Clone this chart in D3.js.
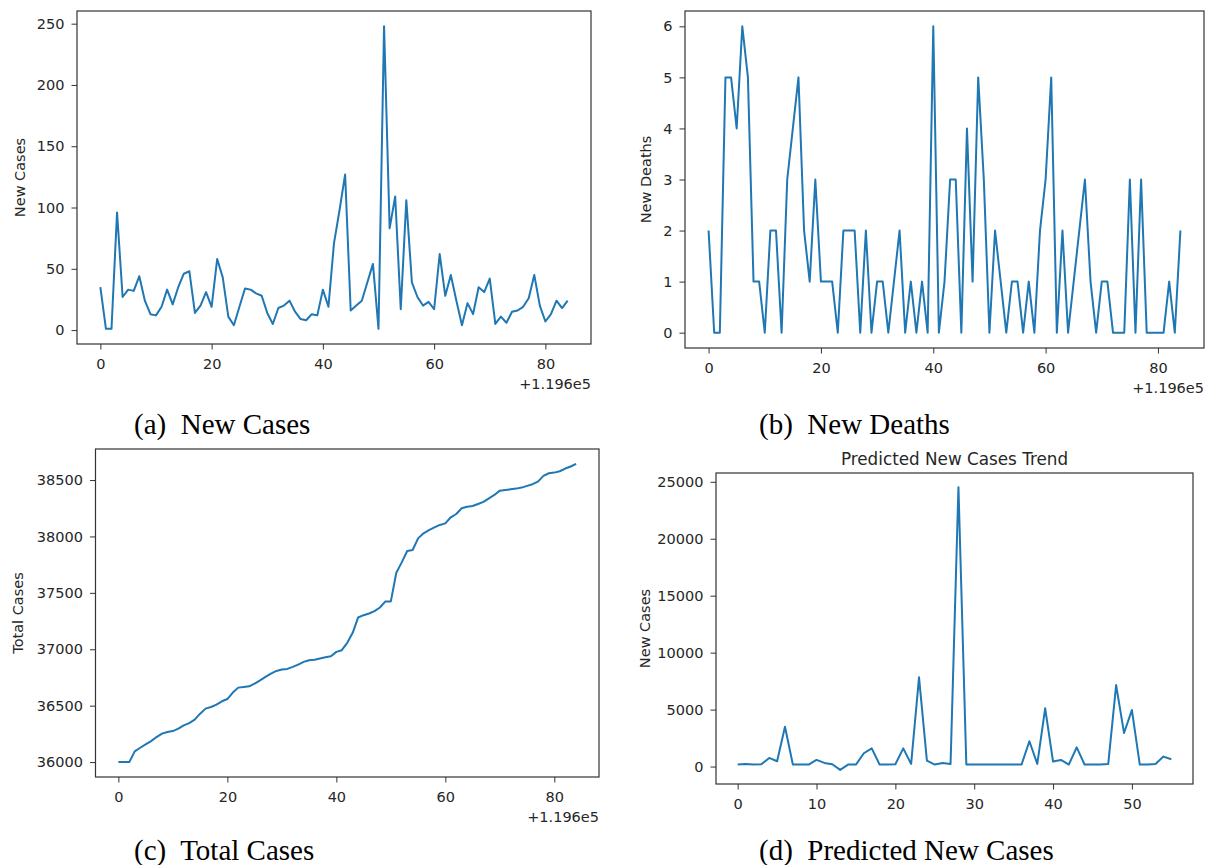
<!DOCTYPE html>
<html>
<head>
<meta charset="utf-8">
<script src="https://cdn.jsdelivr.net/npm/d3@7"></script>
<style>
  body { margin: 0; background: #fff; }
  svg text { font-family: "DejaVu Sans", sans-serif; fill: #262626; }
  .caption { font-family: "Liberation Serif", "Times New Roman", serif !important; white-space: pre; }
</style>
</head>
<body>
<div id="vis"></div>
<script>
// day index offsets (shown as +1.196e5 on the axis)
const newCases = [35, 1, 1, 96, 27, 33, 32, 44, 24, 13, 12, 19, 33, 21, 35, 46, 48, 14, 20, 31,
  19, 58, 43, 11, 4, 19, 34, 33, 30, 28, 14, 5, 18, 20, 24, 15, 9, 8, 13, 12,
  33, 19, 71, 98, 127, 16, 20, 24, 39, 54, 1, 248, 83, 109, 17, 106, 39, 27, 20, 23,
  17, 62, 28, 45, 24, 4, 22, 13, 35, 31, 42, 5, 11, 6, 15, 16, 19, 26, 45, 20,
  7, 13, 24, 18, 24];

const newDeaths = [2, 0, 0, 5, 5, 4, 6, 5, 1, 1, 0, 2, 2, 0, 3, 4, 5, 2, 1, 3,
  1, 1, 1, 0, 2, 2, 2, 0, 2, 0, 1, 1, 0, 1, 2, 0, 1, 0, 1, 0,
  6, 0, 1, 3, 3, 0, 4, 1, 5, 3, 0, 2, 1, 0, 1, 1, 0, 1, 0, 2,
  3, 5, 0, 2, 0, 1, 2, 3, 1, 0, 1, 1, 0, 0, 0, 3, 0, 3, 0, 0,
  0, 0, 1, 0, 2];

const totalCases = [36000, 36000, 36000, 36095, 36127, 36157, 36186, 36222, 36252, 36266,
  36275, 36296, 36326, 36346, 36376, 36429, 36474, 36488, 36509, 36539,
  36559, 36616, 36660, 36666, 36672, 36696, 36725, 36755, 36784, 36808,
  36820, 36826, 36844, 36864, 36888, 36903, 36908, 36918, 36929, 36938,
  36977, 36992, 37057, 37146, 37282, 37302, 37317, 37338, 37370, 37424,
  37424, 37678, 37770, 37871, 37880, 37983, 38028, 38057, 38081, 38102,
  38116, 38170, 38199, 38250, 38264, 38270, 38288, 38306, 38338, 38368,
  38406, 38412, 38418, 38424, 38433, 38448, 38463, 38486, 38537, 38560,
  38566, 38578, 38602, 38620, 38643];

const predictedCases = [175, 234, 175, 200, 760, 467, 3500, 175, 175, 175,
  584, 321, 204, -290, 175, 175, 1170, 1600, 175, 175,
  200, 1600, 234, 7830, 526, 175, 321, 234, 24530, 175,
  175, 175, 175, 175, 175, 175, 175, 2220, 234, 5110,
  438, 584, 175, 1690, 175, 175, 175, 234, 7150, 2950,
  4960, 175, 175, 234, 876, 642];

const dayTicks = [0, 20, 40, 60, 80];
const predTicks = [0, 10, 20, 30, 40, 50];
const casesTicks = [0, 50, 100, 150, 200, 250];
const deathTicks = [0, 1, 2, 3, 4, 5, 6];
const totalTicks = [36000, 36500, 37000, 37500, 38000, 38500];
const predYTicks = [0, 5000, 10000, 15000, 20000, 25000];

const panels = [
  {values: newCases, xTicks: dayTicks, yTicks: casesTicks, ylabel: "New Cases", offset: "+1.196e5",
   box: [77, 591, 11, 344], ylabelX: 20, caption: "(a)  New Cases", capX: 134, capY: 434},
  {values: newDeaths, xTicks: dayTicks, yTicks: deathTicks, ylabel: "New Deaths", offset: "+1.196e5",
   box: [685, 1204, 11, 348], ylabelX: 646, caption: "(b)  New Deaths", capX: 759, capY: 434},
  {values: totalCases, xTicks: dayTicks, yTicks: totalTicks, ylabel: "Total Cases", offset: "+1.196e5",
   box: [95.5, 599, 449, 777], ylabelX: 18, caption: "(c)  Total Cases", capX: 134, capY: 860},
  {values: predictedCases, xTicks: predTicks, yTicks: predYTicks, ylabel: "New Cases", offset: null,
   title: "Predicted New Cases Trend",
   box: [716, 1193, 473, 784], ylabelX: 645, caption: "(d)  Predicted New Cases", capX: 759, capY: 860}
];

const svg = d3.select("#vis").append("svg")
  .attr("width", 1211).attr("height", 865);

function padded(ext) {
  const pad = (ext[1] - ext[0]) * 0.05;
  return [ext[0] - pad, ext[1] + pad];
}

panels.forEach(p => {
  const [x0, x1, y0, y1] = p.box;
  const x = d3.scaleLinear().domain(padded([0, p.values.length - 1])).range([x0, x1]);
  const y = d3.scaleLinear().domain(padded(d3.extent(p.values))).range([y1, y0]);

  const g = svg.append("g");

  g.append("g")
    .attr("transform", `translate(0,${y1})`)
    .call(d3.axisBottom(x).tickValues(p.xTicks).tickFormat(d3.format("d")).tickSize(5.5).tickPadding(9))
    .call(a => a.select(".domain").remove())
    .call(a => a.selectAll("line").attr("stroke", "#333"))
    .call(a => a.selectAll("text").style("font-size", "14.5px").attr("fill", "#262626"));

  g.append("g")
    .attr("transform", `translate(${x0},0)`)
    .call(d3.axisLeft(y).tickValues(p.yTicks).tickFormat(d3.format("d")).tickSize(5.5).tickPadding(7))
    .call(a => a.select(".domain").remove())
    .call(a => a.selectAll("line").attr("stroke", "#333"))
    .call(a => a.selectAll("text").style("font-size", "14.5px").attr("fill", "#262626"));

  g.append("path")
    .datum(p.values)
    .attr("fill", "none")
    .attr("stroke", "#1f77b4")
    .attr("stroke-width", 2)
    .attr("stroke-linejoin", "round")
    .attr("d", d3.line().x((d, i) => x(i)).y(d => y(d)));

  g.append("rect")
    .attr("x", x0).attr("y", y0)
    .attr("width", x1 - x0).attr("height", y1 - y0)
    .attr("fill", "none").attr("stroke", "#333").attr("stroke-width", 1.2);

  g.append("text")
    .attr("transform", `translate(${p.ylabelX},${(y0 + y1) / 2}) rotate(-90)`)
    .attr("text-anchor", "middle")
    .attr("dy", "0.35em")
    .style("font-size", "14.5px")
    .text(p.ylabel);

  if (p.offset) {
    g.append("text")
      .attr("x", x1).attr("y", y1 + 45)
      .attr("text-anchor", "end")
      .style("font-size", "14.5px")
      .text(p.offset);
  }

  if (p.title) {
    g.append("text")
      .attr("x", (x0 + x1) / 2).attr("y", y0 - 8)
      .attr("text-anchor", "middle")
      .style("font-size", "16.8px")
      .text(p.title);
  }

  g.append("text")
    .attr("class", "caption")
    .attr("x", p.capX).attr("y", p.capY)
    .style("font-size", "29px")
    .style("fill", "#000")
    .text(p.caption);
});
</script>
</body>
</html>
